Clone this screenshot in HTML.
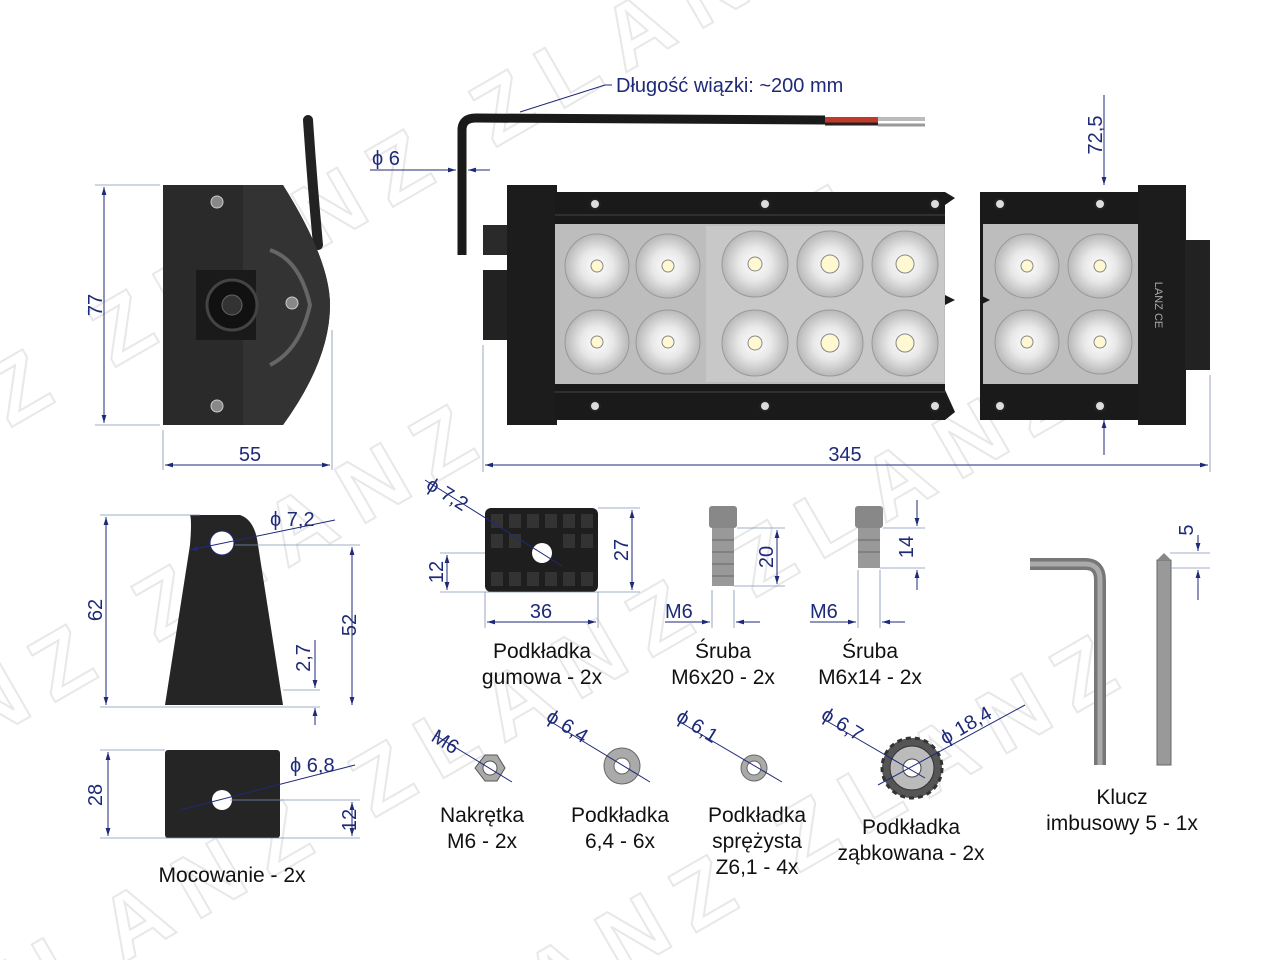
<!DOCTYPE html>
<html><head><meta charset="utf-8"><style>
html,body{margin:0;padding:0;background:#fff;width:1280px;height:960px;overflow:hidden}
svg{display:block}
text{font-family:"Liberation Sans",sans-serif;fill:#111}
.d{fill:#1e2a78;font-size:20px}
.l{font-size:21px;text-anchor:middle}
.dim{stroke:#1e2a78;stroke-width:1;fill:none}
.ext{stroke:#8090b8;stroke-width:0.8}
.wm{font-size:90px;fill:none;stroke:#e8e8e8;stroke-width:2;font-weight:bold;letter-spacing:20px}
</style></head><body>
<svg width="1280" height="960" viewBox="0 0 1280 960">
<defs>
<marker id="a" viewBox="0 0 10 10" refX="10" refY="5" markerWidth="8" markerHeight="8" orient="auto-start-reverse"><path d="M0,2 L10,5 L0,8z" fill="#1e2a78"/></marker>
<radialGradient id="led" cx="50%" cy="50%" r="50%"><stop offset="0" stop-color="#fff"/><stop offset="0.5" stop-color="#e8e8e8"/><stop offset="1" stop-color="#b8b8b8"/></radialGradient>
</defs>
<g transform="rotate(-30 640 480)">
<text class="wm" x="-200" y="120">ZLANZ  ZLANZ  ZLANZ</text>
<text class="wm" x="-300" y="380">ZLANZ  ZLANZ  ZLANZ</text>
<text class="wm" x="-200" y="640">ZLANZ  ZLANZ  ZLANZ</text>
<text class="wm" x="-300" y="900">ZLANZ  ZLANZ  ZLANZ</text>
</g>

<!-- side view -->
<path d="M308,120 Q312,180 318,245" stroke="#222" stroke-width="10" stroke-linecap="round" fill="none"/>
<path d="M163,185 L283,185 Q330,260 330,305 Q330,360 283,425 L163,425 Z" fill="#2a2a2a"/>
<path d="M243,185 L283,185 Q330,260 330,305 Q330,360 283,425 L243,425 Z" fill="#333"/>
<rect x="196" y="270" width="60" height="70" fill="#1a1a1a"/>
<circle cx="232" cy="305" r="25" fill="#111" stroke="#444" stroke-width="3"/>
<circle cx="232" cy="305" r="10" fill="#333" stroke="#666"/>
<path d="M270,250 Q300,260 310,305 Q300,350 270,365" stroke="#666" stroke-width="4" fill="none"/>
<circle cx="217" cy="202" r="6" fill="#888" stroke="#ccc"/><circle cx="217" cy="406" r="6" fill="#888" stroke="#ccc"/><circle cx="292" cy="303" r="6" fill="#888" stroke="#ccc"/>
<line class="ext" x1="95" y1="185" x2="160" y2="185"/><line class="ext" x1="95" y1="425" x2="160" y2="425"/>
<line class="dim" x1="104" y1="187" x2="104" y2="423" marker-start="url(#a)" marker-end="url(#a)"/>
<text class="d" transform="translate(102,305) rotate(-90)" text-anchor="middle">77</text>
<line class="ext" x1="163" y1="430" x2="163" y2="470"/><line class="ext" x1="332" y1="330" x2="332" y2="470"/>
<line class="dim" x1="165" y1="465" x2="330" y2="465" marker-start="url(#a)" marker-end="url(#a)"/>
<text class="d" x="250" y="461" text-anchor="middle">55</text>

<!-- cable -->
<path d="M462,255 L462,130 Q462,118 476,118 L825,120" stroke="#1a1a1a" stroke-width="9" fill="none"/>
<line x1="825" y1="120" x2="878" y2="120" stroke="#c0392b" stroke-width="6"/>
<line x1="825" y1="124" x2="878" y2="124" stroke="#222" stroke-width="3"/>
<line x1="878" y1="119" x2="925" y2="119" stroke="#bbb" stroke-width="4"/>
<line x1="878" y1="125" x2="925" y2="125" stroke="#999" stroke-width="3"/>
<line class="dim" x1="520" y1="112" x2="605" y2="85"/><line class="dim" x1="605" y1="85" x2="612" y2="85"/>
<text class="d" x="616" y="92">Długość wiązki: ~200 mm</text>
<text class="d" x="372" y="165">ϕ 6</text>
<line class="dim" x1="370" y1="170" x2="456" y2="170" marker-end="url(#a)"/>
<line class="dim" x1="490" y1="170" x2="468" y2="170" marker-end="url(#a)"/>

<!-- main bar left -->
<rect x="483" y="270" width="30" height="70" fill="#222"/>
<rect x="483" y="225" width="30" height="30" fill="#2a2a2a"/>
<rect x="507" y="185" width="50" height="240" fill="#1c1c1c"/>
<rect x="555" y="192" width="390" height="228" fill="#1a1a1a"/>
<rect x="555" y="224" width="390" height="160" fill="#bdbdbd"/>
<rect x="706" y="226" width="238" height="156" fill="#c8c8c8"/>
<line x1="555" y1="215" x2="945" y2="215" stroke="#444"/><line x1="555" y1="392" x2="945" y2="392" stroke="#444"/>
<polygon points="945,192 955,198 945,205 945,295 955,300 945,305 945,420 955,412 945,390" fill="#1a1a1a"/>
<rect x="980" y="192" width="160" height="228" fill="#1a1a1a"/>
<rect x="983" y="224" width="157" height="160" fill="#bdbdbd"/>
<polygon points="980,192 990,198 980,205 980,295 990,300 980,305 980,420" fill="#1a1a1a"/>
<rect x="1138" y="185" width="48" height="240" fill="#1c1c1c"/>
<rect x="1185" y="240" width="25" height="130" fill="#222"/>
<text x="1155" y="305" font-size="11" style="fill:#aaa" transform="rotate(90 1155 305)" text-anchor="middle">LANZ  CE</text>
<g fill="#ddd" stroke="#222" stroke-width="2">
<circle cx="595" cy="204" r="5"/><circle cx="765" cy="204" r="5"/><circle cx="935" cy="204" r="5"/><circle cx="1000" cy="204" r="5"/><circle cx="1100" cy="204" r="5"/>
<circle cx="595" cy="406" r="5"/><circle cx="765" cy="406" r="5"/><circle cx="935" cy="406" r="5"/><circle cx="1000" cy="406" r="5"/><circle cx="1100" cy="406" r="5"/>
</g>
<g fill="url(#led)" stroke="#999">
<circle cx="597" cy="266" r="32"/><circle cx="668" cy="266" r="32"/><circle cx="597" cy="342" r="32"/><circle cx="668" cy="342" r="32"/>
<circle cx="755" cy="264" r="33"/><circle cx="830" cy="264" r="33"/><circle cx="905" cy="264" r="33"/>
<circle cx="755" cy="343" r="33"/><circle cx="830" cy="343" r="33"/><circle cx="905" cy="343" r="33"/>
<circle cx="1027" cy="266" r="32"/><circle cx="1100" cy="266" r="32"/><circle cx="1027" cy="342" r="32"/><circle cx="1100" cy="342" r="32"/>
</g>
<g fill="#fff8d0" stroke="#888">
<circle cx="597" cy="266" r="6"/><circle cx="668" cy="266" r="6"/><circle cx="597" cy="342" r="6"/><circle cx="668" cy="342" r="6"/>
<circle cx="755" cy="264" r="7"/><circle cx="830" cy="264" r="9"/><circle cx="905" cy="264" r="9"/><circle cx="755" cy="343" r="7"/><circle cx="830" cy="343" r="9"/><circle cx="905" cy="343" r="9"/>
<circle cx="1027" cy="266" r="6"/><circle cx="1100" cy="266" r="6"/><circle cx="1027" cy="342" r="6"/><circle cx="1100" cy="342" r="6"/>
</g>
<line class="ext" x1="483" y1="345" x2="483" y2="472"/><line class="ext" x1="1210" y1="375" x2="1210" y2="472"/>
<line class="dim" x1="485" y1="465" x2="1208" y2="465" marker-start="url(#a)" marker-end="url(#a)"/>
<text class="d" x="845" y="461" text-anchor="middle">345</text>
<line class="dim" x1="1104" y1="95" x2="1104" y2="185" marker-end="url(#a)"/>
<line class="dim" x1="1104" y1="455" x2="1104" y2="420" marker-end="url(#a)"/>
<text class="d" transform="translate(1102,135) rotate(-90)" text-anchor="middle">72,5</text>

<!-- bracket front -->
<path d="M190,515 L240,515 Q255,520 258,545 L283,705 L165,705 L190,545 Q192,520 190,515 Z" fill="#252525"/>
<circle cx="222" cy="543" r="12" fill="#fff" stroke="#1e2a78"/>
<line class="ext" x1="100" y1="515" x2="200" y2="515"/><line class="ext" x1="100" y1="707" x2="320" y2="707"/>
<line class="dim" x1="106" y1="517" x2="106" y2="705" marker-start="url(#a)" marker-end="url(#a)"/>
<text class="d" transform="translate(102,610) rotate(-90)" text-anchor="middle">62</text>
<line class="ext" x1="235" y1="545" x2="360" y2="545"/>
<line class="dim" x1="352" y1="547" x2="352" y2="705" marker-start="url(#a)" marker-end="url(#a)"/>
<text class="d" transform="translate(356,625) rotate(-90)" text-anchor="middle">52</text>
<line class="dim" x1="315" y1="640" x2="315" y2="688" marker-end="url(#a)"/><line class="dim" x1="315" y1="725" x2="315" y2="708" marker-end="url(#a)"/>
<line class="ext" x1="283" y1="690" x2="320" y2="690"/>
<text class="d" transform="translate(310,658) rotate(-90)" text-anchor="middle">2,7</text>
<text class="d" x="270" y="526">ϕ 7,2</text>
<line class="dim" x1="190" y1="550" x2="335" y2="520" marker-start="url(#a)"/>
<rect x="165" y="750" width="115" height="88" fill="#252525" rx="3"/>
<circle cx="222" cy="800" r="10" fill="#fff"/>
<line class="ext" x1="100" y1="750" x2="165" y2="750"/><line class="ext" x1="100" y1="838" x2="360" y2="838"/><line class="ext" x1="230" y1="800" x2="360" y2="800"/>
<line class="dim" x1="108" y1="752" x2="108" y2="836" marker-start="url(#a)" marker-end="url(#a)"/>
<text class="d" transform="translate(102,795) rotate(-90)" text-anchor="middle">28</text>
<line class="dim" x1="352" y1="802" x2="352" y2="836" marker-start="url(#a)" marker-end="url(#a)"/>
<text class="d" transform="translate(356,820) rotate(-90)" text-anchor="middle">12</text>
<text class="d" x="290" y="772">ϕ 6,8</text>
<line class="dim" x1="180" y1="810" x2="355" y2="765"/>
<text class="l" x="232" y="882">Mocowanie - 2x</text>

<!-- rubber pad -->
<rect x="485" y="508" width="113" height="84" rx="6" fill="#1e1e1e"/>
<g fill="#333">
<rect x="491" y="514" width="12" height="14"/><rect x="509" y="514" width="12" height="14"/><rect x="527" y="514" width="12" height="14"/><rect x="545" y="514" width="12" height="14"/><rect x="563" y="514" width="12" height="14"/><rect x="581" y="514" width="12" height="14"/>
<rect x="491" y="534" width="12" height="14"/><rect x="509" y="534" width="12" height="14"/><rect x="563" y="534" width="12" height="14"/><rect x="581" y="534" width="12" height="14"/>
<rect x="491" y="572" width="12" height="14"/><rect x="509" y="572" width="12" height="14"/><rect x="527" y="572" width="12" height="14"/><rect x="545" y="572" width="12" height="14"/><rect x="563" y="572" width="12" height="14"/><rect x="581" y="572" width="12" height="14"/>
</g>
<circle cx="542" cy="553" r="10" fill="#fff"/>
<line class="dim" x1="425" y1="480" x2="562" y2="566"/>
<text class="d" transform="translate(425,488) rotate(32)">ϕ 7,2</text>
<line class="ext" x1="598" y1="508" x2="640" y2="508"/><line class="ext" x1="440" y1="592" x2="640" y2="592"/>
<line class="dim" x1="632" y1="510" x2="632" y2="590" marker-start="url(#a)" marker-end="url(#a)"/>
<text class="d" transform="translate(628,550) rotate(-90)" text-anchor="middle">27</text>
<line class="ext" x1="440" y1="553" x2="485" y2="553"/>
<line class="dim" x1="447" y1="555" x2="447" y2="590" marker-start="url(#a)" marker-end="url(#a)"/>
<text class="d" transform="translate(443,572) rotate(-90)" text-anchor="middle">12</text>
<line class="dim" x1="487" y1="622" x2="596" y2="622" marker-start="url(#a)" marker-end="url(#a)"/>
<line class="ext" x1="485" y1="592" x2="485" y2="628"/><line class="ext" x1="598" y1="592" x2="598" y2="628"/>
<text class="d" x="541" y="618" text-anchor="middle">36</text>
<text class="l" x="542" y="658">Podkładka</text><text class="l" x="542" y="684">gumowa - 2x</text>

<!-- bolts -->
<rect x="709" y="506" width="28" height="22" rx="3" fill="#888"/>
<rect x="712" y="528" width="22" height="58" fill="#999"/>
<g stroke="#666"><line x1="712" y1="540" x2="734" y2="540"/><line x1="712" y1="552" x2="734" y2="552"/><line x1="712" y1="564" x2="734" y2="564"/><line x1="712" y1="576" x2="734" y2="576"/></g>
<line class="ext" x1="737" y1="528" x2="785" y2="528"/><line class="ext" x1="734" y1="586" x2="785" y2="586"/>
<line class="dim" x1="777" y1="530" x2="777" y2="584" marker-start="url(#a)" marker-end="url(#a)"/>
<text class="d" transform="translate(773,557) rotate(-90)" text-anchor="middle">20</text>
<line class="ext" x1="712" y1="590" x2="712" y2="628"/><line class="ext" x1="734" y1="590" x2="734" y2="628"/>
<line class="dim" x1="665" y1="622" x2="710" y2="622" marker-end="url(#a)"/><line class="dim" x1="760" y1="622" x2="736" y2="622" marker-end="url(#a)"/>
<text class="d" x="665" y="618">M6</text>
<text class="l" x="723" y="658">Śruba</text><text class="l" x="723" y="684">M6x20 - 2x</text>

<rect x="855" y="506" width="28" height="22" rx="3" fill="#888"/>
<rect x="858" y="528" width="22" height="40" fill="#999"/>
<g stroke="#666"><line x1="858" y1="540" x2="880" y2="540"/><line x1="858" y1="552" x2="880" y2="552"/></g>
<line class="ext" x1="883" y1="528" x2="925" y2="528"/><line class="ext" x1="880" y1="568" x2="925" y2="568"/>
<line class="dim" x1="917" y1="500" x2="917" y2="526" marker-end="url(#a)"/><line class="dim" x1="917" y1="590" x2="917" y2="570" marker-end="url(#a)"/>
<text class="d" transform="translate(913,547) rotate(-90)" text-anchor="middle">14</text>
<line class="ext" x1="858" y1="570" x2="858" y2="628"/><line class="ext" x1="880" y1="570" x2="880" y2="628"/>
<line class="dim" x1="810" y1="622" x2="856" y2="622" marker-end="url(#a)"/><line class="dim" x1="905" y1="622" x2="882" y2="622" marker-end="url(#a)"/>
<text class="d" x="810" y="618">M6</text>
<text class="l" x="870" y="658">Śruba</text><text class="l" x="870" y="684">M6x14 - 2x</text>

<!-- allen key -->
<path d="M1030,564 L1085,564 Q1100,564 1100,580 L1100,765" stroke="#777" stroke-width="12" fill="none"/>
<path d="M1030,564 L1085,564 Q1100,564 1100,580 L1100,765" stroke="#aaa" stroke-width="5" fill="none"/>
<rect x="1157" y="560" width="14" height="205" fill="#999" stroke="#666"/>
<polygon points="1157,560 1164,553 1171,560" fill="#888"/>
<line class="ext" x1="1170" y1="553" x2="1210" y2="553"/><line class="ext" x1="1170" y1="568" x2="1210" y2="568"/>
<line class="dim" x1="1198" y1="535" x2="1198" y2="551" marker-end="url(#a)"/><line class="dim" x1="1198" y1="600" x2="1198" y2="570" marker-end="url(#a)"/>
<text class="d" transform="translate(1193,530) rotate(-90)" text-anchor="middle">5</text>
<text class="l" x="1122" y="804">Klucz</text><text class="l" x="1122" y="830">imbusowy 5 - 1x</text>

<polygon points="475,768 485,755 497,755 505,768 497,781 485,781" fill="#aaa" stroke="#555"/>
<circle cx="490" cy="768" r="7" fill="#fff" stroke="#555"/>
<line class="dim" x1="435" y1="735" x2="512" y2="782"/>
<text class="d" transform="translate(430,740) rotate(32)">M6</text>
<text class="l" x="482" y="822">Nakrętka</text><text class="l" x="482" y="848">M6 - 2x</text>

<circle cx="622" cy="766" r="18" fill="#aaa" stroke="#666"/><circle cx="622" cy="766" r="8" fill="#fff" stroke="#666"/>
<line class="dim" x1="548" y1="720" x2="650" y2="782"/>
<text class="d" transform="translate(545,720) rotate(32)">ϕ 6,4</text>
<text class="l" x="620" y="822">Podkładka</text><text class="l" x="620" y="848">6,4 - 6x</text>

<circle cx="754" cy="768" r="13" fill="#aaa" stroke="#666"/><circle cx="754" cy="768" r="7" fill="#fff" stroke="#666"/>
<line class="dim" x1="680" y1="722" x2="782" y2="782"/>
<text class="d" transform="translate(675,720) rotate(32)">ϕ 6,1</text>
<text class="l" x="757" y="822">Podkładka</text><text class="l" x="757" y="848">sprężysta</text><text class="l" x="757" y="874">Z6,1 - 4x</text>

<circle cx="912" cy="768" r="30" fill="#555" stroke="#333" stroke-width="3" stroke-dasharray="5 4"/>
<circle cx="912" cy="768" r="22" fill="#bbb" stroke="#333"/>
<circle cx="912" cy="768" r="9" fill="#fff" stroke="#444"/>
<line class="dim" x1="825" y1="720" x2="925" y2="778"/>
<text class="d" transform="translate(820,718) rotate(32)">ϕ 6,7</text>
<line class="dim" x1="878" y1="785" x2="1025" y2="705"/>
<text class="d" transform="translate(945,745) rotate(-30)">ϕ 18,4</text>
<text class="l" x="911" y="834">Podkładka</text><text class="l" x="911" y="860">ząbkowana - 2x</text>
</svg>
</body></html>
